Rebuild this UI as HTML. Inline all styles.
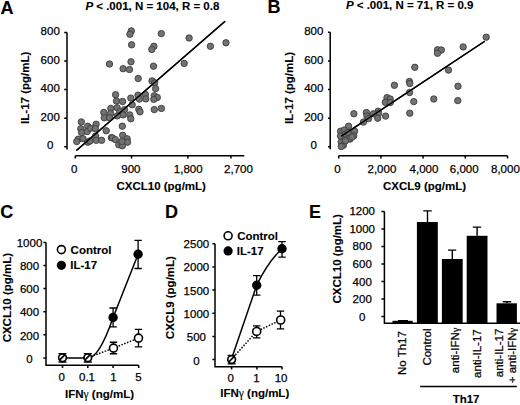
<!DOCTYPE html>
<html><head><meta charset="utf-8"><style>
html,body{margin:0;padding:0;background:#fff;}
svg{display:block;font-family:"Liberation Sans",sans-serif;}
text{stroke:#000;stroke-width:0.25px;}
.b text{stroke-width:0.12px;}
</style></head><body>
<svg width="520" height="405" viewBox="0 0 520 405">
<rect width="520" height="405" fill="#fff"/>
<g class="b" font-size="18" font-weight="bold"><text x="0.6" y="13.6">A</text><text x="267.6" y="12.8">B</text><text x="0.3" y="218.1">C</text><text x="165" y="218">D</text><text x="309" y="218.4">E</text></g><g class="b" font-size="11.5" font-weight="bold"><text x="85.4" y="9.5"><tspan font-style="italic">P</tspan> &lt; .001, N = 104, R = 0.8</text><text x="345.9" y="9.4"><tspan font-style="italic">P</tspan> &lt; .001, N = 71, R = 0.9</text><text x="161.2" y="189.8" text-anchor="middle">CXCL10 (pg/mL)</text><text x="424.6" y="190.2" text-anchor="middle">CXCL9 (pg/mL)</text><text transform="translate(29.0 87.8) rotate(-90)" text-anchor="middle">IL-17 (pg/mL)</text><text transform="translate(292.7 88.0) rotate(-90)" text-anchor="middle">IL-17 (pg/mL)</text><text transform="translate(10.8 297.65) rotate(-90)" text-anchor="middle">CXCL10 (pg/mL)</text><text transform="translate(174.3 297.6) rotate(-90)" text-anchor="middle">CXCL9 (pg/mL)</text><text transform="translate(340.7 258.8) rotate(-90)" text-anchor="middle">CXCL10 (pg/mL)</text><text x="99.55" y="397.7" text-anchor="middle">IFN<tspan font-family="Liberation Serif" font-weight="normal">&#947;</tspan> (ng/mL)</text><text x="254.75" y="397.4" text-anchor="middle">IFN<tspan font-family="Liberation Serif" font-weight="normal">&#947;</tspan> (ng/mL)</text><text x="70.6" y="253.5">Control</text><text x="70.2" y="268.7">IL-17</text><text x="237.2" y="239.5">Control</text><text x="236.8" y="254.6">IL-17</text><text x="466.1" y="403.1" text-anchor="middle">Th17</text></g><g font-size="11.5"><text x="50.2" y="35.00" text-anchor="middle">800</text><text x="50.2" y="63.57" text-anchor="middle">600</text><text x="50.2" y="92.15" text-anchor="middle">400</text><text x="50.2" y="120.72" text-anchor="middle">200</text><text x="50.2" y="149.30" text-anchor="middle">0</text><text x="313.8" y="35.15" text-anchor="middle">800</text><text x="313.8" y="63.71" text-anchor="middle">600</text><text x="313.8" y="92.27" text-anchor="middle">400</text><text x="313.8" y="120.84" text-anchor="middle">200</text><text x="313.8" y="149.40" text-anchor="middle">0</text><text x="29.5" y="246.55" text-anchor="middle">1000</text><text x="29.5" y="269.85" text-anchor="middle">800</text><text x="29.5" y="293.15" text-anchor="middle">600</text><text x="29.5" y="316.45" text-anchor="middle">400</text><text x="29.5" y="339.75" text-anchor="middle">200</text><text x="29.5" y="363.05" text-anchor="middle">0</text><text x="196.4" y="247.90" text-anchor="middle">2500</text><text x="196.4" y="271.24" text-anchor="middle">2000</text><text x="196.4" y="294.58" text-anchor="middle">1500</text><text x="196.4" y="317.92" text-anchor="middle">1000</text><text x="196.4" y="341.26" text-anchor="middle">500</text><text x="196.4" y="364.60" text-anchor="middle">0</text><text x="362.2" y="214.95" text-anchor="middle">1200</text><text x="362.2" y="232.66" text-anchor="middle">1000</text><text x="362.2" y="250.37" text-anchor="middle">800</text><text x="362.2" y="268.07" text-anchor="middle">600</text><text x="362.2" y="285.78" text-anchor="middle">400</text><text x="362.2" y="303.49" text-anchor="middle">200</text><text x="362.2" y="321.20" text-anchor="middle">0</text><text x="74.3" y="173" text-anchor="middle">0</text><text x="130.9" y="173" text-anchor="middle">900</text><text x="188.2" y="173" text-anchor="middle">1,800</text><text x="238.5" y="173" text-anchor="middle">2,700</text><text x="337.4" y="173" text-anchor="middle">0</text><text x="381.9" y="173" text-anchor="middle">2,000</text><text x="424.0" y="173" text-anchor="middle">4,000</text><text x="464.2" y="173" text-anchor="middle">6,000</text><text x="505.4" y="173" text-anchor="middle">8,000</text><text x="61.8" y="380.9" text-anchor="middle">0</text><text x="87.0" y="380.9" text-anchor="middle">0.1</text><text x="113.4" y="380.9" text-anchor="middle">1</text><text x="138.4" y="380.9" text-anchor="middle">5</text><text x="230.6" y="382.2" text-anchor="middle">0</text><text x="256.4" y="382.2" text-anchor="middle">1</text><text x="281.1" y="382.2" text-anchor="middle">10</text><text transform="translate(406.4 331.1) rotate(-90)" text-anchor="end">No Th17</text><text transform="translate(430.9 328.5) rotate(-90)" text-anchor="end">Control</text><text transform="translate(458.8 327.6) rotate(-90)" text-anchor="end">anti-IFN<tspan font-family="Liberation Serif" font-size="10.5">&#947;</tspan></text><text transform="translate(481.0 329.3) rotate(-90)" text-anchor="end">anti-IL-17</text><text transform="translate(503.1 328.6) rotate(-90)" text-anchor="end">anti-IL-17</text><text transform="translate(515.5 327.8) rotate(-90)" text-anchor="end">+ anti-IFN<tspan font-family="Liberation Serif" font-size="10.5">&#947;</tspan></text></g><g stroke="#000" stroke-width="1.5" fill="none"><path d="M67 32.5V149.6M67 32.50H64.2M67 61.05H64.2M67 89.60H64.2M67 118.15H64.2M67 146.70H64.2"/><path d="M75.3 155.8H244.3M75.3 155.8V158.60000000000002M131.5 155.8V158.60000000000002M187.9 155.8V158.60000000000002M230.9 155.8V158.60000000000002"/><path d="M330.2 32.3V149.3M330.2 32.30H328.0M330.2 60.92H328.0M330.2 89.55H328.0M330.2 118.17H328.0M330.2 146.80H328.0"/><path d="M338.6 155.8H507.5M338.7 155.8V158.60000000000002M380.9 155.8V158.60000000000002M423.1 155.8V158.60000000000002M465.3 155.8V158.60000000000002M507.5 155.8V158.60000000000002"/><path d="M46 242.4V365.2H138.7M46 242.40H43.4M46 265.50H43.4M46 288.60H43.4M46 311.70H43.4M46 334.80H43.4M46 357.90H43.4M62.5 365.2V368.0M87.8 365.2V368.0M113.1 365.2V368.0M138.7 365.2V368.0"/><path d="M215 243.7V366.7H282M215 243.70H212.4M215 266.88H212.4M215 290.06H212.4M215 313.24H212.4M215 336.42H212.4M215 359.60H212.4M231.6 366.7V369.5M256.9 366.7V369.5M282 366.7V369.5"/><path d="M384.4 211.6V323.3H520M384.4 211.60H381.4M384.4 229.08H381.4M384.4 246.57H381.4M384.4 264.05H381.4M384.4 281.53H381.4M384.4 299.01H381.4M384.4 316.50H381.4"/><path d="M420.2 386.5H516.8"/></g><g stroke="#000" stroke-width="1.4"><line x1="76.4" y1="150.5" x2="225.1" y2="21.2"/><line x1="341.1" y1="136.4" x2="484.75" y2="41.25"/></g><g fill="#727272" stroke="#3c3c3c" stroke-width="0.9"><circle cx="131.3" cy="30.9" r="3.2"/><circle cx="129.9" cy="34.2" r="3.2"/><circle cx="131.6" cy="44.8" r="3.2"/><circle cx="161.3" cy="33.6" r="3.2"/><circle cx="153.9" cy="46.3" r="3.2"/><circle cx="151.8" cy="49.4" r="3.2"/><circle cx="189.1" cy="38.0" r="3.2"/><circle cx="210.4" cy="46.3" r="3.2"/><circle cx="226.0" cy="42.8" r="3.2"/><circle cx="109.5" cy="64.0" r="3.2"/><circle cx="131.0" cy="61.8" r="3.2"/><circle cx="153.5" cy="66.2" r="3.2"/><circle cx="184.2" cy="63.4" r="3.2"/><circle cx="123.1" cy="68.7" r="3.2"/><circle cx="129.5" cy="69.5" r="3.2"/><circle cx="138.2" cy="78.5" r="3.2"/><circle cx="152.0" cy="80.9" r="3.2"/><circle cx="154.7" cy="82.8" r="3.2"/><circle cx="155.6" cy="88.6" r="3.2"/><circle cx="115.6" cy="94.7" r="3.2"/><circle cx="116.5" cy="101.0" r="3.2"/><circle cx="122.6" cy="101.5" r="3.2"/><circle cx="130.8" cy="98.1" r="3.2"/><circle cx="132.2" cy="104.8" r="3.2"/><circle cx="138.0" cy="95.2" r="3.2"/><circle cx="139.4" cy="99.1" r="3.2"/><circle cx="145.4" cy="94.5" r="3.2"/><circle cx="145.8" cy="98.9" r="3.2"/><circle cx="154.3" cy="95.8" r="3.2"/><circle cx="157.3" cy="97.5" r="3.2"/><circle cx="153.8" cy="99.3" r="3.2"/><circle cx="138.8" cy="109.3" r="3.2"/><circle cx="140.0" cy="111.8" r="3.2"/><circle cx="154.3" cy="109.6" r="3.2"/><circle cx="161.4" cy="108.4" r="3.2"/><circle cx="110.8" cy="108.4" r="3.2"/><circle cx="117.1" cy="107.7" r="3.2"/><circle cx="124.5" cy="109.6" r="3.2"/><circle cx="119.7" cy="111.6" r="3.2"/><circle cx="103.8" cy="112.5" r="3.2"/><circle cx="110.6" cy="113.5" r="3.2"/><circle cx="123.1" cy="114.9" r="3.2"/><circle cx="129.8" cy="114.9" r="3.2"/><circle cx="104.3" cy="117.8" r="3.2"/><circle cx="109.6" cy="117.8" r="3.2"/><circle cx="117.3" cy="115.9" r="3.2"/><circle cx="130.8" cy="118.8" r="3.2"/><circle cx="81.3" cy="121.9" r="3.2"/><circle cx="80.8" cy="128.8" r="3.2"/><circle cx="81.6" cy="132.5" r="3.2"/><circle cx="87.7" cy="126.3" r="3.2"/><circle cx="87.2" cy="131.5" r="3.2"/><circle cx="90.7" cy="128.3" r="3.2"/><circle cx="96.1" cy="124.3" r="3.2"/><circle cx="95.3" cy="128.5" r="3.2"/><circle cx="78.3" cy="139.2" r="3.2"/><circle cx="76.7" cy="141.5" r="3.2"/><circle cx="83.1" cy="138.7" r="3.2"/><circle cx="87.7" cy="142.2" r="3.2"/><circle cx="89.9" cy="141.0" r="3.2"/><circle cx="95.6" cy="136.0" r="3.2"/><circle cx="96.3" cy="140.3" r="3.2"/><circle cx="101.6" cy="140.3" r="3.2"/><circle cx="106.2" cy="130.7" r="3.2"/><circle cx="111.4" cy="137.6" r="3.2"/><circle cx="122.3" cy="126.2" r="3.2"/><circle cx="112.4" cy="137.9" r="3.2"/><circle cx="115.4" cy="139.6" r="3.2"/><circle cx="122.7" cy="135.3" r="3.2"/><circle cx="127.1" cy="138.8" r="3.2"/><circle cx="127.5" cy="142.2" r="3.2"/><circle cx="118.8" cy="144.8" r="3.2"/><circle cx="122.3" cy="145.7" r="3.2"/><circle cx="121.9" cy="141.4" r="3.2"/><circle cx="486.2" cy="37.2" r="3.2"/><circle cx="463.2" cy="46.9" r="3.2"/><circle cx="437.5" cy="49.8" r="3.2"/><circle cx="441.3" cy="50.0" r="3.2"/><circle cx="437.5" cy="53.3" r="3.2"/><circle cx="448.5" cy="70.1" r="3.2"/><circle cx="458.0" cy="86.2" r="3.2"/><circle cx="457.8" cy="100.6" r="3.2"/><circle cx="433.8" cy="99.0" r="3.2"/><circle cx="414.8" cy="67.3" r="3.2"/><circle cx="409.4" cy="81.5" r="3.2"/><circle cx="409.8" cy="83.5" r="3.2"/><circle cx="394.4" cy="85.3" r="3.2"/><circle cx="409.6" cy="92.5" r="3.2"/><circle cx="413.8" cy="101.6" r="3.2"/><circle cx="409.8" cy="113.2" r="3.2"/><circle cx="387.0" cy="97.6" r="3.2"/><circle cx="390.2" cy="99.0" r="3.2"/><circle cx="385.3" cy="102.3" r="3.2"/><circle cx="390.3" cy="102.5" r="3.2"/><circle cx="385.6" cy="116.1" r="3.2"/><circle cx="378.1" cy="111.2" r="3.2"/><circle cx="378.5" cy="113.4" r="3.2"/><circle cx="377.7" cy="118.2" r="3.2"/><circle cx="373.4" cy="113.8" r="3.2"/><circle cx="366.4" cy="112.5" r="3.2"/><circle cx="366.9" cy="116.0" r="3.2"/><circle cx="368.6" cy="118.6" r="3.2"/><circle cx="363.4" cy="122.1" r="3.2"/><circle cx="353.9" cy="113.8" r="3.2"/><circle cx="348.6" cy="126.2" r="3.2"/><circle cx="340.6" cy="131.2" r="3.2"/><circle cx="344.3" cy="130.0" r="3.2"/><circle cx="354.6" cy="131.2" r="3.2"/><circle cx="353.8" cy="135.8" r="3.2"/><circle cx="347.1" cy="137.6" r="3.2"/><circle cx="350.0" cy="139.0" r="3.2"/><circle cx="341.2" cy="142.0" r="3.2"/><circle cx="343.4" cy="145.2" r="3.2"/><circle cx="341.3" cy="146.5" r="3.2"/><circle cx="340.6" cy="136.0" r="3.2"/><circle cx="345.5" cy="134.0" r="3.2"/><circle cx="349.3" cy="138.7" r="3.2"/><circle cx="348.0" cy="132.5" r="3.2"/><circle cx="345.5" cy="140.8" r="3.2"/><circle cx="352.0" cy="137.0" r="3.2"/></g><g stroke="#000" stroke-width="1.4"><line x1="76.4" y1="150.5" x2="225.1" y2="21.2"/><line x1="341.1" y1="136.4" x2="484.75" y2="41.25"/></g><g fill="none" stroke="#000" stroke-width="1.5"><path d="M62.5 358.1L87.8 358.1C95 358.1 104 344 113.1 317.5L138.1 254.3"/><path d="M214 0"/><path d="M231.4 359.3L256.7 285.2C265 268 272 258 282 248.7"/></g><g fill="none" stroke="#000" stroke-width="1.5" stroke-dasharray="1.5 1.5"><path d="M87.8 357.7L113.5 348.1L138.5 338.1"/><path d="M231.4 359.3L256.7 331.4L280.7 320"/></g><g fill="none" stroke="#000" stroke-width="1.3"><path d="M113.1 308V326.9M109.39999999999999 308H116.8M109.39999999999999 326.9H116.8M138.1 240.4V268.5M134.4 240.4H141.79999999999998M134.4 268.5H141.79999999999998M113.5 342.25V353.75M109.8 342.25H117.2M109.8 353.75H117.2M138.5 329.4V346.9M134.8 329.4H142.2M134.8 346.9H142.2M62.5 353.6V362.0M58.5 353.6H66.5M58.5 362.0H66.5M87.8 353.6V362.0M83.8 353.6H91.8M83.8 362.0H91.8M256.7 275.6V295.2M253.0 275.6H260.4M253.0 295.2H260.4M282 241.7V257.1M278.3 241.7H285.7M278.3 257.1H285.7M256.7 325.8V337.8M253.0 325.8H260.4M253.0 337.8H260.4M280.5 311.1V328.9M276.8 311.1H284.2M276.8 328.9H284.2M231.6 355.4V363.8M227.6 355.4H235.6M227.6 363.8H235.6"/></g><circle cx="113.1" cy="317.5" r="4.7" fill="#000"/><circle cx="138.1" cy="254.3" r="4.7" fill="#000"/><circle cx="113.5" cy="348.1" r="4.0" fill="#fff" stroke="#000" stroke-width="1.6"/><circle cx="138.5" cy="338.1" r="4.0" fill="#fff" stroke="#000" stroke-width="1.6"/><circle cx="62.5" cy="357.7" r="3.85" fill="#fff" stroke="#000" stroke-width="1.7"/><path d="M65.0 354.7L59.5 360.2" stroke="#000" stroke-width="1.7"/><circle cx="87.8" cy="357.7" r="3.85" fill="#fff" stroke="#000" stroke-width="1.7"/><path d="M90.3 354.7L84.8 360.2" stroke="#000" stroke-width="1.7"/><circle cx="256.7" cy="285.2" r="4.7" fill="#000"/><circle cx="282" cy="248.7" r="4.7" fill="#000"/><circle cx="256.7" cy="331.4" r="4.0" fill="#fff" stroke="#000" stroke-width="1.6"/><circle cx="280.7" cy="320" r="4.0" fill="#fff" stroke="#000" stroke-width="1.6"/><circle cx="231.6" cy="359.6" r="3.85" fill="#fff" stroke="#000" stroke-width="1.7"/><path d="M234.1 356.6L228.6 362.1" stroke="#000" stroke-width="1.7"/><circle cx="61.4" cy="249.6" r="4.0" fill="#fff" stroke="#000" stroke-width="1.6"/><circle cx="61.4" cy="265.3" r="4.6" fill="#000"/><circle cx="228.1" cy="235.8" r="4.0" fill="#fff" stroke="#000" stroke-width="1.6"/><circle cx="228.1" cy="250.9" r="4.6" fill="#000"/><g fill="#000"><rect x="392.5" y="320.8" width="20.2" height="2.5"/><rect x="416.9" y="222" width="20.9" height="101.3"/><rect x="441.9" y="259" width="20.8" height="64.3"/><rect x="466.7" y="235.8" width="20.8" height="87.5"/><rect x="496.5" y="303.3" width="20.4" height="20.0"/></g><g fill="none" stroke="#000" stroke-width="1.4"><path d="M427.5 222V210.9M423.3 210.9H431.7M452.3 259V250.1M448 250.1H456.2M477.1 235.8V227.1M472.8 227.1H481.2M507 303.3V301.7M502.8 301.7H511.2M398 320.6H408"/></g>
</svg>
</body></html>
